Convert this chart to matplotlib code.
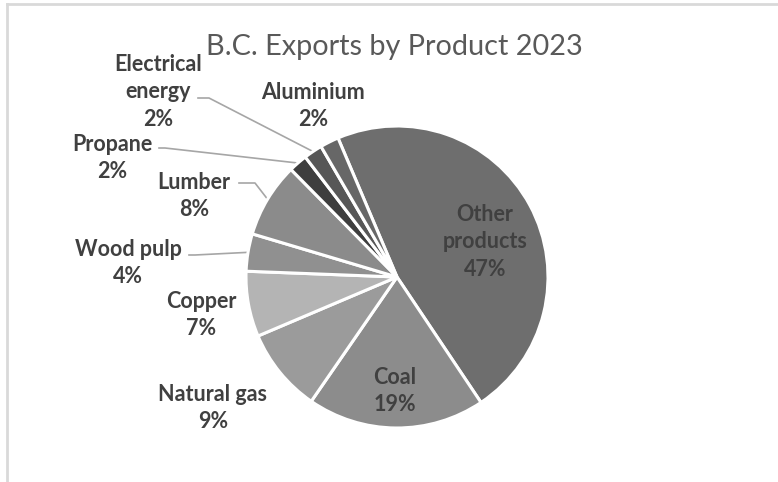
import matplotlib.pyplot as plt
import numpy as np

plt.rcParams['font.family'] = ['Lato', 'DejaVu Sans']

# data, clockwise from the top
products = ['Other\nproducts', 'Coal', 'Natural gas', 'Copper', 'Wood pulp',
            'Lumber', 'Propane', 'Electrical\nenergy', 'Aluminium']
shares = [47, 19, 9, 7, 4, 8, 2, 2, 2]
colors = ['#6e6e6e', '#8c8c8c', '#9b9b9b', '#b4b4b4', '#909090',
          '#8b8b8b', '#3e3e3e', '#575757', '#676767']

W, H = 778, 482
fig = plt.figure(figsize=(W / 100, H / 100), dpi=100)
ax = fig.add_axes([0, 0, 1, 1])

cx, cy, r = 397, H - 277, 151
wedges, _ = ax.pie(shares, colors=colors, startangle=113, counterclock=False,
                   center=(cx, cy), radius=r, frame=True,
                   wedgeprops=dict(edgecolor='white', linewidth=2.2))
ax.set_xlim(0, W)
ax.set_ylim(0, H)
ax.set_aspect('equal')
ax.axis('off')

# label positions (pixels from top-left) and leader-line start points
label_pos = {
    'Other\nproducts': (485, 242),
    'Coal': (395, 391),
    'Natural gas': (213, 408),
    'Copper': (201, 315),
    'Wood pulp': (128, 263),
    'Lumber': (194, 196),
    'Propane': (112, 158),
    'Electrical\nenergy': (158, 92),
    'Aluminium': (313, 106),
}
leaders = {
    'Electrical\nenergy': [(198, 98), (209, 98)],
    'Propane': [(159, 148), (165, 148)],
    'Lumber': [(239, 183), (255, 183)],
    'Wood pulp': [(189, 255), (195, 255)],
}

txt = '#404040'
for w, name, val in zip(wedges, products, shares):
    x, y = label_pos[name]
    ax.text(x, H - y, f'{name}\n{val}%', ha='center', va='center',
            fontsize=15.5, fontweight='bold', color=txt, linespacing=1.38)
    if name in leaders:
        mid = np.deg2rad((w.theta1 + w.theta2) / 2)
        ex, ey = cx + r * np.cos(mid), cy + r * np.sin(mid)
        pts = [(px, H - py) for px, py in leaders[name]] + [(ex, ey)]
        ax.plot([p[0] for p in pts], [p[1] for p in pts],
                color='#a6a6a6', lw=1.2, zorder=0.5)

ax.text(394, H - 47, 'B.C. Exports by Product 2023', ha='center', va='center',
        fontsize=20.8, color='#595959')

# light frame lines at top and left
ax.plot([7, W], [H - 4, H - 4], color='#d9d9d9', lw=2)
ax.plot([7, 7], [H - 4, 0], color='#d9d9d9', lw=2)

fig.savefig('out.png', dpi=100)
